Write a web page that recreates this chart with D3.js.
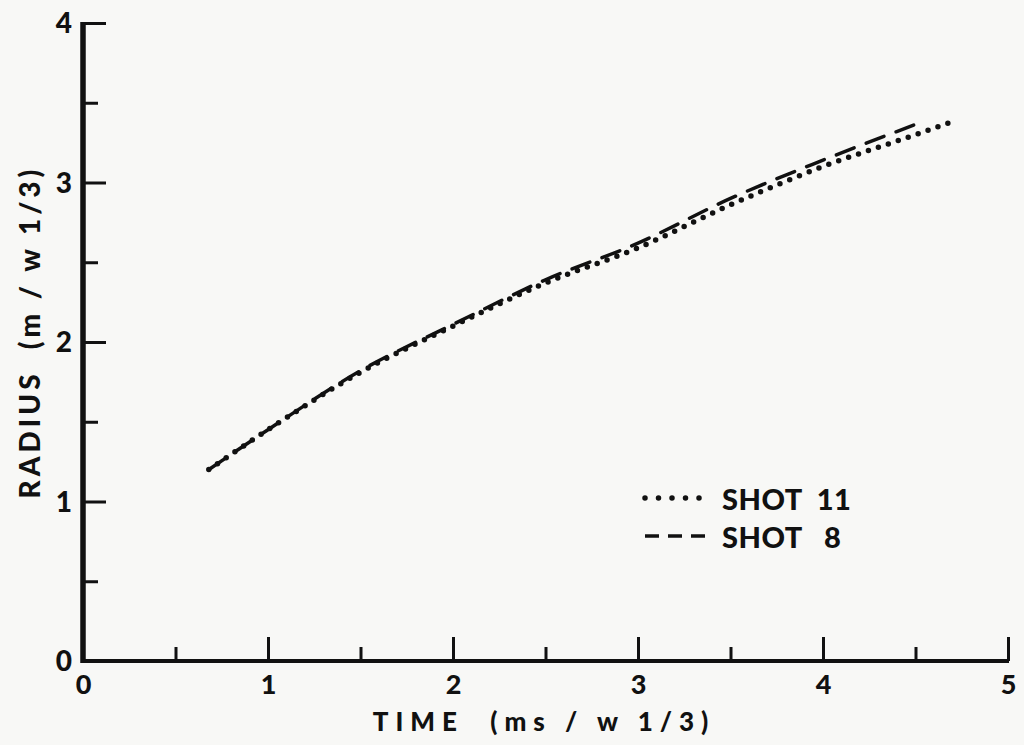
<!DOCTYPE html>
<html>
<head>
<meta charset="utf-8">
<script src="https://cdn.jsdelivr.net/npm/d3@7"></script>
<style>
  html, body { margin: 0; padding: 0; background: #f8f8f6; }
  svg { display: block; }
  text { font-family: Lato, "Open Sans", sans-serif; font-weight: 900; fill: #111; }
</style>
</head>
<body>
<svg id="chart" width="1024" height="745"></svg>
<script>
// Scaled blast radius vs scaled time for two shots
const shot8Time    = [0.68, 1.0, 1.5, 2.0, 2.5, 3.0, 3.5, 4.0, 4.49];
const shot8Radius  = [1.20, 1.45, 1.82, 2.11, 2.39, 2.62, 2.90, 3.14, 3.36];
const shot11Time   = [0.68, 1.0, 1.5, 2.0, 2.5, 3.0, 3.5, 4.0, 4.5, 4.72];
const shot11Radius = [1.20, 1.45, 1.81, 2.10, 2.37, 2.59, 2.86, 3.10, 3.30, 3.39];

const xMajorTicks = [0, 1, 2, 3, 4, 5];
const xMinorTicks = [0.5, 1.5, 2.5, 3.5, 4.5];
const yMajorTicks = [0, 1, 2, 3, 4];
const yMinorTicks = [0.5, 1.5, 2.5, 3.5];

const xTitle = "TIME  (ms / w 1/3)";
const yTitle = "RADIUS  (m / w 1/3)";
const legendLabels = ["SHOT  11", "SHOT   8"];

const svg = d3.select("#chart");
const ink = "#111";

const x = d3.scaleLinear().domain([0, 5]).range([83, 1008]);
const y = d3.scaleLinear().domain([0, 4]).range([661, 23]);

// ---- axes ----
function styleAxis(g, width) {
  g.select(".domain").remove();
  g.selectAll(".tick line").attr("stroke", ink).attr("stroke-width", width);
  g.selectAll(".tick text").attr("fill", ink);
}

// x axis: ticks point up into the plot
const gx = svg.append("g").attr("transform", `translate(0,${y(0)})`);
gx.call(d3.axisBottom(x).tickValues(xMajorTicks).tickSize(-24).tickPadding(33)
  .tickFormat(d3.format("d")));
styleAxis(gx, 3);
gx.selectAll(".tick text").attr("font-size", 27).attr("dy", 0);
gx.select(".tick:first-of-type line").remove();

const gxm = svg.append("g").attr("transform", `translate(0,${y(0)})`);
gxm.call(d3.axisBottom(x).tickValues(xMinorTicks).tickSize(-14).tickFormat(""));
styleAxis(gxm, 3);

// y axis: ticks point right into the plot
const gy = svg.append("g").attr("transform", `translate(${x(0)},0)`);
gy.call(d3.axisLeft(y).tickValues(yMajorTicks).tickSize(-23).tickPadding(11)
  .tickFormat(d3.format("d")));
styleAxis(gy, 3);
gy.selectAll(".tick text").attr("font-size", 28).attr("dy", "0.34em");
gy.select(".tick:first-of-type line").remove();

const gym = svg.append("g").attr("transform", `translate(${x(0)},0)`);
gym.call(d3.axisLeft(y).tickValues(yMinorTicks).tickSize(-15).tickFormat(""));
styleAxis(gym, 3);

// axis lines
svg.append("line")
  .attr("x1", x(0)).attr("x2", x(0)).attr("y1", y(4) - 1).attr("y2", y(0) + 2)
  .attr("stroke", ink).attr("stroke-width", 5.5);
svg.append("line")
  .attr("x1", x(0) - 2).attr("x2", x(5) + 1).attr("y1", y(0)).attr("y2", y(0))
  .attr("stroke", ink).attr("stroke-width", 4);

// axis titles
svg.append("text")
  .attr("x", 544).attr("y", 731)
  .attr("text-anchor", "middle")
  .attr("font-size", 26)
  .attr("letter-spacing", 7)
  .style("white-space", "pre")
  .text(xTitle);

svg.append("text")
  .attr("transform", `translate(40,332) rotate(-90)`)
  .attr("text-anchor", "middle")
  .attr("font-size", 28)
  .attr("letter-spacing", 4)
  .style("white-space", "pre")
  .text(yTitle);

// ---- curves ----
const line = d3.line()
  .x(d => x(d[0]))
  .y(d => y(d[1]))
  .curve(d3.curveMonotoneX);

const shot8 = d3.zip(shot8Time, shot8Radius);
const shot11 = d3.zip(shot11Time, shot11Radius);

svg.append("path")
  .datum(shot8)
  .attr("d", line)
  .attr("fill", "none")
  .attr("stroke", ink)
  .attr("stroke-width", 3.5)
  .attr("stroke-linecap", "round")
  .attr("stroke-dasharray", "19 13");

svg.append("path")
  .datum(shot11)
  .attr("d", line)
  .attr("fill", "none")
  .attr("stroke", ink)
  .attr("stroke-width", 5.5)
  .attr("stroke-linecap", "round")
  .attr("stroke-dasharray", "0 10.5");

// ---- legend ----
const legend = svg.append("g");
const legendY = [498, 536];

legend.append("line")
  .attr("x1", 645).attr("x2", 700).attr("y1", legendY[0]).attr("y2", legendY[0])
  .attr("stroke", ink).attr("stroke-width", 5.5)
  .attr("stroke-linecap", "round")
  .attr("stroke-dasharray", "0 13.5");

legend.append("line")
  .attr("x1", 645).attr("x2", 705).attr("y1", legendY[1]).attr("y2", legendY[1])
  .attr("stroke", ink).attr("stroke-width", 3.5)
  .attr("stroke-dasharray", "14 9");

legend.selectAll("text.lab")
  .data(legendLabels)
  .join("text")
  .attr("class", "lab")
  .attr("x", 722)
  .attr("y", (d, i) => legendY[i] + 12)
  .attr("font-size", 29)
  .attr("font-weight", 700)
  .attr("letter-spacing", 0.5)
  .style("white-space", "pre")
  .text(d => d);
</script>
</body>
</html>
